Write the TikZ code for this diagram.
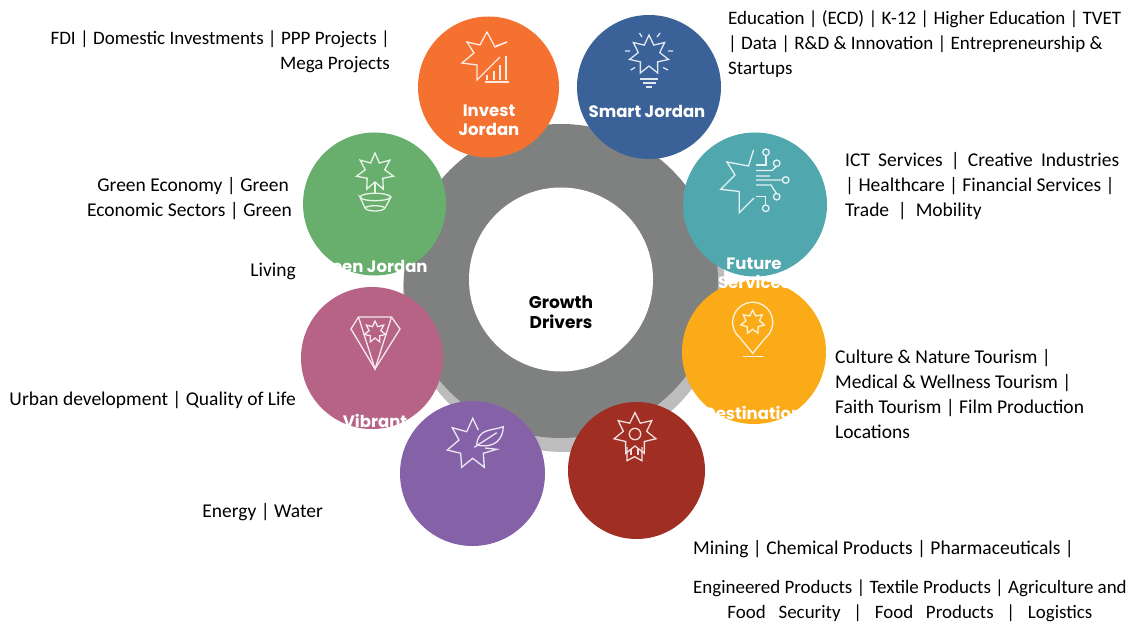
\documentclass[tikz,border=0pt]{standalone}
\usepackage{fontspec}
\setmainfont{Carlito}
\newfontfamily\labfont{Poppins}
\definecolor{cOrange}{HTML}{F47130}
\definecolor{cBlue}{HTML}{3A6198}
\definecolor{cGreen}{HTML}{68AE6C}
\definecolor{cTeal}{HTML}{50A7AE}
\definecolor{cAmber}{HTML}{FBAB18}
\definecolor{cPink}{HTML}{B76385}
\definecolor{cPurple}{HTML}{8562A8}
\definecolor{cRed}{HTML}{A02E22}
\definecolor{cRing}{HTML}{7F8180}
\definecolor{cShade}{HTML}{BDBDBD}
\tikzset{
  disc/.style={circle,inner sep=0pt,draw=none},
  icon/.style={draw=white!85!#1,line width=1.3pt,line join=miter,fill=none},
  icon/.default=white,
  blocktext/.style={font=\fontsize{19.5}{25}\selectfont,text=black,inner sep=0pt,anchor=west,align=left},
  blockright/.style={blocktext,anchor=east,align=right},
  smallblock/.style={font=\fontsize{19}{25}\selectfont},
  lab/.style={font=\labfont\bfseries\fontsize{16.5}{19.5}\selectfont,text=white,inner sep=0pt,align=center},
  hub/.style={font=\labfont\bfseries\fontsize{17}{20}\selectfont,text=black,inner sep=0pt,align=center}
}
% cx, cy, outer, inner, colour
\newcommand{\jstar}[5]{\draw[icon=#5] plot[samples at={0,...,13},variable=\k]
  ({#1+(mod(\k,2)==0?#3:#4)*sin(\k*180/7)},{#2-(mod(\k,2)==0?#3:#4)*cos(\k*180/7)}) -- cycle;}
\begin{document}
\begin{tikzpicture}[x=1pt,y=-1pt]
\useasboundingbox (0,0) rectangle (1135,631);
% ring
\node[disc,fill=cShade,minimum size=322pt] (shade) at (564,291) {};
\node[disc,fill=cRing,minimum size=314pt] (ring) at (561,281) {};
\node[disc,fill=white,minimum size=184pt] (hole) at (561,279.5) {};
% discs
\node[disc,fill=cOrange,minimum size=141pt] (invest) at (488.5,87) {};
\node[disc,fill=cBlue,minimum size=144pt] (smart) at (649,87) {};
\node[disc,fill=cGreen,minimum size=143pt] (green) at (374.5,204) {};
\node[disc,fill=cTeal,minimum size=144pt] (future) at (755,204.5) {};
\node[disc,fill=cAmber,minimum size=144pt] (dest) at (754,352) {};
\node[disc,fill=cPink,minimum size=142pt] (vibrant) at (372,358) {};
\node[disc,fill=cPurple,minimum size=145pt] (purple) at (472.5,473.5) {};
\node[disc,fill=cRed,minimum size=137pt] (red) at (636.5,470.5) {};
% invest icon
\draw[icon=cOrange] (507,42) -- (495,47) -- (487,32) -- (480,45) -- (467,42) -- (474,53) -- (462,63) -- (477,65) -- (477,80) -- (500,57);
\draw[icon=cOrange] (507,42) -- (496,46);
\draw[icon=cOrange] (485,82) -- (509,82);
\draw[icon=cOrange] (487,80) -- (487,75) (494,80) -- (494,71) (500,80) -- (500,65) (506,80) -- (506,56);
% smart icon
\jstar{649}{55}{20}{11}{cBlue}
\draw[icon=cBlue] (639.5,33) -- (642,37) (660,33) -- (657,37) (625,51) -- (630,51) (668,51) -- (673,51) (630.7,70) -- (635,67.5) (663,67.5) -- (668,70);
\draw[icon=cBlue] (640,79) -- (658,79) (643,83) -- (656,83) (646,87) -- (652,87);
% green icon
\jstar{375}{172}{19}{10}{cGreen}
\draw[icon=cGreen] (375,182) -- (375,193);
\draw[icon=cGreen] (360,197) .. controls (362,192) and (388,192) .. (391,197) .. controls (388,202) and (362,202) .. (360,197) -- (365,208) .. controls (367,212) and (383,212) .. (385,208) -- (391,197);
\draw[icon=cGreen] (365,208) .. controls (367,205) and (383,205) .. (385,208);
% vibrant icon
\draw[icon=cPink] (358.5,317) -- (391.5,317) -- (400,329) -- (375,369) -- (351,329) -- cycle;
\draw[icon=cPink] (358.5,317) -- (375,369) -- (391.5,317);
\jstar{375}{332}{11}{6}{cPink}
% future icon
\draw[icon=cTeal] (753.5,150) -- (748.5,166) -- (727,162) -- (735,175) -- (720.7,189.3) -- (739.3,191.5) -- (739.3,212.7) -- (754,198);
\draw[icon=cTeal] (756,165) -- (766,165) -- (766,155.5);
\draw[icon=cTeal] (756,170.5) -- (772,170.5) -- (776.7,166);
\draw[icon=cTeal] (756,176) -- (770,176) (756,180) -- (782,180) (756,185) -- (771,185) -- (776.7,194);
\draw[icon=cTeal] (756,196.7) -- (765.7,196.7) -- (765.7,205);
\foreach \cx/\cy in {766/152.3,776.7/163.3,785.7/180,776.7/196.7,765.7/208.3}
  \draw[icon=cTeal] (\cx,\cy) circle[radius=3.3];
% destination icon
\draw[icon=cAmber] plot[domain=-50:230,samples=40] ({752.7+20*cos(\x)},{322.3-20*sin(\x)}) -- (752.7,353.3) -- cycle;
\jstar{752.7}{322.3}{12}{7}{cAmber}
\draw[icon=cAmber] (743.3,356.7) -- (762.7,356.7);
% purple icon
\draw[icon=cPurple] (478.3,430) -- (472.7,418.3) -- (466.7,431.7) -- (452.3,427.7) -- (459,440) -- (447.3,450) -- (460.7,453.3) -- (461.7,467.3) -- (472.7,458.3) -- (484.3,467.3) -- (483.3,453.3) -- (496.7,449.3) -- (485,448);
\draw[icon=cPurple] (476.7,445) .. controls (478,428) and (492,431) .. (503.3,426.7) .. controls (503,438) and (496,449) .. (476.7,445);
\draw[icon=cPurple] (474.3,447.3) -- (496.7,432.7);
% red icon
\jstar{635}{434}{21.5}{12}{cRed}
\draw[icon=cRed] (635,434) circle[radius=5.7];
\draw[icon=cRed] (627,447) -- (627,460.7) -- (634.5,456.7) -- (642,460.7) -- (642,447);
\draw[icon=cRed] (631,449) -- (631,455) (638,449) -- (638,455);
% disc labels
\node[lab] (investlab) at (489,120.5) {Invest\\Jordan};
\node[lab] (smartlab) at (647,111) {Smart Jordan};
\node[lab] (greenlab) at (370,266.5) {Green Jordan};
\node[lab] (futurelab) at (754,273.5) {Future\\Services};
\node[lab] (destlab) at (753,413) {Destination};
\node[lab] (vibrantlab) at (375,421) {Vibrant};
\node[hub] (hublab) at (561,312) {Growth\\Drivers};
% texts
\node[blockright,smallblock] (t1) at (390,52) {FDI | Domestic Investments | PPP Projects |\\Mega Projects};
\node[blocktext,smallblock] (t2) at (728,44) {Education | (ECD) | K-12 | Higher Education | TVET\\| Data | R\&D \& Innovation | Entrepreneurship \&\\Startups};
\node[blocktext] (t3) at (845,186) {\makebox[274pt][s]{ICT Services | Creative Industries}\\| Healthcare | Financial Services |\\Trade \ | \ Mobility};
\node[blockright] (t4) at (292,199) {Green Economy | Green\hspace*{3pt}\\Economic Sectors | Green};
\node[blockright] (t5) at (296,271) {Living};
\node[blockright] (t6) at (296,400) {Urban development | Quality of Life};
\node[blocktext] (t7) at (835,394.5) {Culture \& Nature Tourism |\\Medical \& Wellness Tourism |\\Faith Tourism | Film Production\\Locations};
\node[blockright] (t8) at (323,512) {Energy | Water};
\node[blocktext] (t9) at (693,549) {Mining | Chemical Products | Pharmaceuticals |};
\node[blocktext,align=center,font=\fontsize{18.95}{25}\selectfont] (t10) at (693,600.5) {Engineered Products | Textile Products | Agriculture and\\\makebox[365pt][s]{Food Security | Food Products | Logistics}};
\end{tikzpicture}
\end{document}
